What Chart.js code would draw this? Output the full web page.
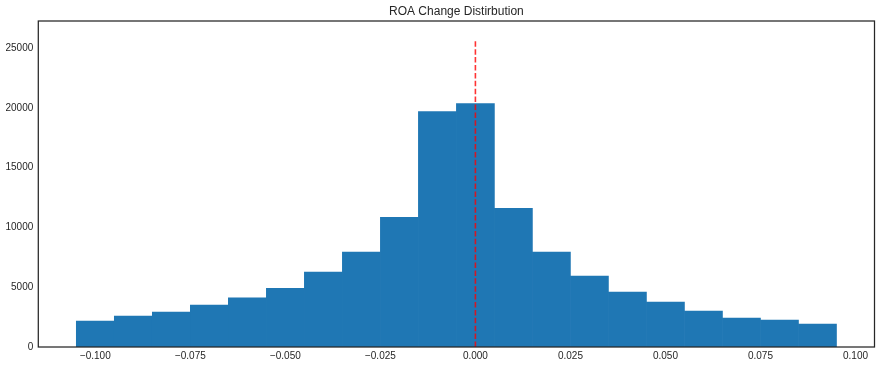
<!DOCTYPE html>
<html>
<head>
<meta charset="utf-8">
<script src="https://cdn.jsdelivr.net/npm/chart.js@4.4.1/dist/chart.umd.min.js"></script>
<style>
  html, body { margin: 0; padding: 0; background: #ffffff; }
  #wrap { width: 882px; height: 367px; position: relative; }
</style>
</head>
<body>
<div id="wrap"><canvas id="c" width="882" height="367"></canvas></div>
<script>
// ---- data ----
const titleText = "ROA Change Distirbution";
// bin centres; bins span -0.105 .. 0.095, width 0.01
const binCenters = [-0.10, -0.09, -0.08, -0.07, -0.06, -0.05, -0.04, -0.03, -0.02, -0.01,
                    0.00, 0.01, 0.02, 0.03, 0.04, 0.05, 0.06, 0.07, 0.08, 0.09];
const counts = [2170, 2590, 2920, 3500, 4110, 4920, 6260, 7950, 10850, 19700,
                20370, 11600, 7950, 5930, 4590, 3760, 3000, 2420, 2250, 1920];
const vlineX = [0, 0];
const vlineY = [0, 25780];
const xTicks = [-0.100, -0.075, -0.050, -0.025, 0.000, 0.025, 0.050, 0.075, 0.100];
const yTicks = [0, 5000, 10000, 15000, 20000, 25000];
const xRange = [-0.115, 0.105];
const yRange = [0, 27280];

const textColor = '#262626';
const fontFamily = '"Liberation Sans", Arial, "DejaVu Sans", sans-serif';

const barData = binCenters.map((c, i) => ({ x: c, y: counts[i] }));
const lineData = vlineX.map((x, i) => ({ x: x, y: vlineY[i] }));

const framePlugin = {
  id: 'frame',
  afterDatasetsDraw(chart) {
    const { ctx, chartArea: a } = chart;
    ctx.save();
    ctx.strokeStyle = textColor;
    ctx.lineWidth = 1.25;
    ctx.strokeRect(a.left, a.top, a.right - a.left, a.bottom - a.top);
    ctx.restore();
  },
  afterDraw(chart) {
    const { ctx, chartArea: a } = chart;
    ctx.save();
    ctx.fillStyle = textColor;
    ctx.font = '12px ' + fontFamily;
    ctx.textAlign = 'center';
    ctx.textBaseline = 'middle';
    ctx.fillText(titleText, (a.left + a.right) / 2, 11.5);
    ctx.restore();
  }
};

new Chart(document.getElementById('c'), {
  type: 'bar',
  data: {
    datasets: [
      {
        type: 'line',
        data: lineData,
        borderColor: 'rgba(255,0,0,0.8)',
        borderWidth: 1.6,
        borderDash: [5.5, 2.4],
        pointRadius: 0,
        fill: false,
        order: 0
      },
      {
        type: 'bar',
        data: barData,
        backgroundColor: '#1f77b4',
        borderWidth: 0,
        barPercentage: 1.0,
        categoryPercentage: 1.0,
        order: 1
      }
    ]
  },
  options: {
    responsive: false,
    animation: false,
    devicePixelRatio: 1,
    layout: { padding: { top: 21, right: 7.5, left: 0, bottom: 0 } },
    plugins: { legend: { display: false }, tooltip: { enabled: false }, title: { display: false } },
    scales: {
      x: {
        type: 'linear',
        min: xRange[0],
        max: xRange[1],
        offset: false,
        grid: { display: false, drawTicks: false },
        border: { display: false },
        ticks: {
          color: textColor,
          font: { size: 10, family: fontFamily },
          padding: 3,
          maxRotation: 0,
          autoSkip: false,
          callback: (v) => (Math.abs(v) < 1e-9 ? 0 : v).toFixed(3).replace('-', '\u2212')
        },
        afterBuildTicks: (s) => { s.ticks = xTicks.map(v => ({ value: v })); },
        afterFit: (s) => { s.height = 20; }
      },
      y: {
        type: 'linear',
        min: yRange[0],
        max: yRange[1],
        grid: { display: false, drawTicks: false },
        border: { display: false },
        ticks: {
          color: textColor,
          font: { size: 10, family: fontFamily },
          padding: 5,
          callback: (v) => String(v)
        },
        afterBuildTicks: (s) => { s.ticks = yTicks.map(v => ({ value: v })); },
        afterFit: (s) => { s.width = 38.3; }
      }
    }
  },
  plugins: [framePlugin]
});
</script>
</body>
</html>
